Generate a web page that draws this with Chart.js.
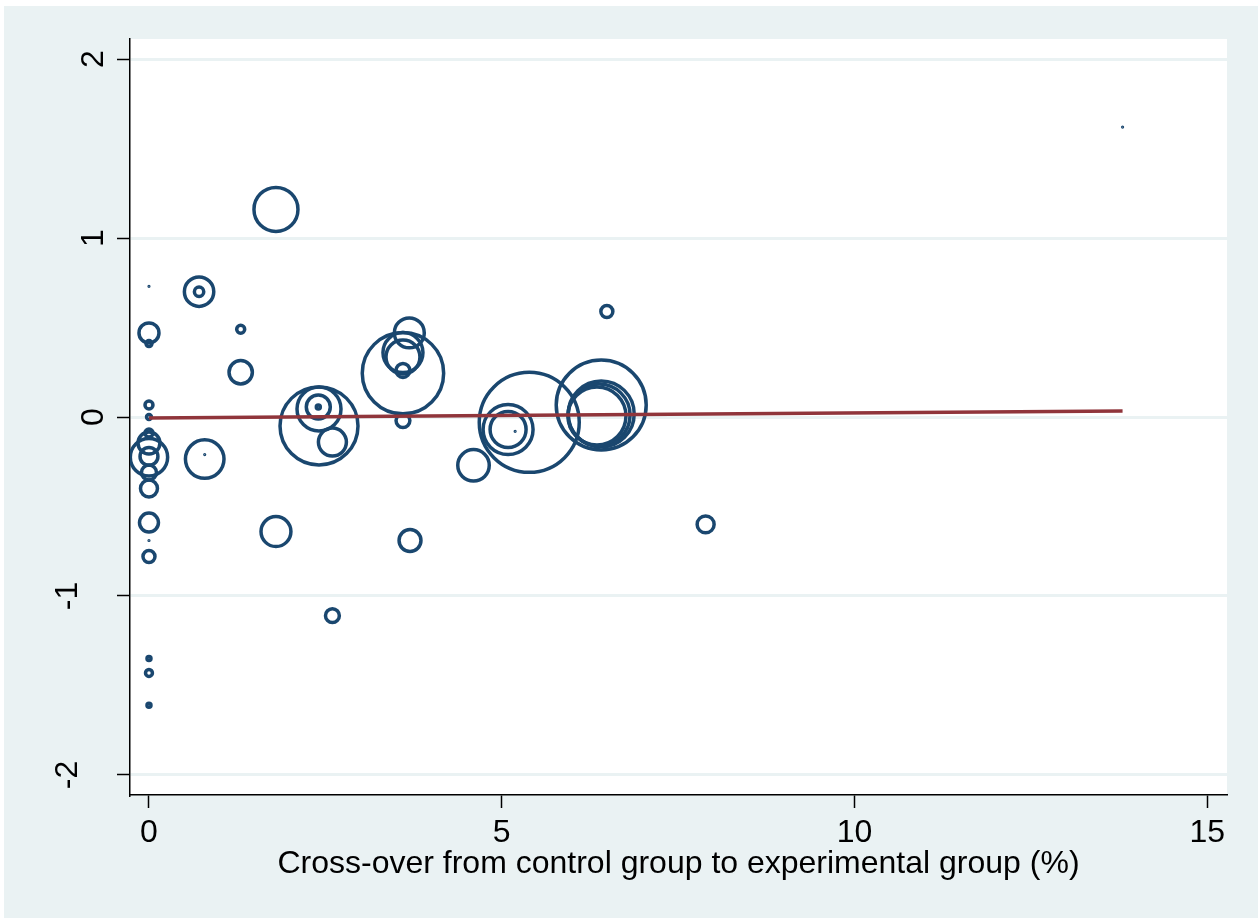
<!DOCTYPE html>
<html>
<head>
<meta charset="utf-8">
<script src="https://cdn.jsdelivr.net/npm/chart.js@4.4.0/dist/chart.umd.min.js"></script>
<style>
  body { margin: 0; background: #fff; }
  #wrap { position: absolute; left: 4px; top: 6px; width: 1254px; height: 912px; }
</style>
</head>
<body>
<div id="wrap"><canvas id="chart" width="1254" height="912"></canvas></div>
<script>
// values: one entry per study
const crossover = [0, 0.71, 0.71, 0, 0, 1.30, 1.30, 0, 0, 0,
  0, 0, 0, 0, 0, 0, 0, 0, 0, 0,
  0, 0.79, 0.79, 1.80, 1.80, 3.69, 3.60, 3.60, 3.60, 3.60,
  3.60, 2.41, 2.41, 2.40, 2.40, 2.60, 5.39, 5.09, 5.09, 5.19,
  4.60, 6.41, 6.41, 6.38, 6.35, 6.49, 7.89, 3.70, 2.60, 13.8];
const effect = [0.73, 0.70, 0.70, 0.47, 0.41, 0.49, 0.25, 0.067, 0.0, -0.09,
  -0.145, -0.225, -0.22, -0.31, -0.40, -0.59, -0.69, -0.78, -1.35, -1.43,
  -1.61, -0.235, -0.21, -0.64, 1.16, 0.47, 0.245, 0.36, 0.335, 0.26,
  -0.02, -0.05, 0.045, 0.056, 0.056, -0.14, -0.03, -0.07, -0.07, -0.08,
  -0.27, 0.067, 0.017, 0.011, 0.006, 0.59, -0.60, -0.69, -1.11, 1.62];
const weight = [0.25, 54, 5.5, 25, 2.25, 4, 34, 4, 1.5, 4,
  30, 87, 20, 14, 18, 22.5, 0.25, 9, 1, 3,
  1, 93, 0.25, 56, 121, 56, 414, 100, 72, 12,
  12, 380, 121, 36, 1, 49, 625, 156, 81, 0.25,
  62, 506, 272, 240, 210, 9, 18, 30, 12, 0.25];

// fitted line
const fitX = [0, 13.8];
const fitY = [-0.006, 0.034];

const xTicks = [0, 5, 10, 15];
const yTicks = [-2, -1, 0, 1, 2];
const xTitle = "Cross-over from control group to experimental group (%)";

const navy = "#1a476f";
const maroon = "#90353b";
const bgBlue = "#eaf2f3";
const fontFamily = '"Liberation Sans", Arial, sans-serif';

const bubbles = crossover.map((x, i) => ({ x: x, y: effect[i], r: 2 * Math.sqrt(weight[i]) }));
const fitLine = fitX.map((x, i) => ({ x: x, y: fitY[i] }));

// background: light region, white plot area
const backdrop = {
  id: "backdrop",
  beforeDraw(chart) {
    const { ctx, chartArea } = chart;
    ctx.save();
    ctx.fillStyle = bgBlue;
    ctx.fillRect(0, 0, chart.width, chart.height);
    ctx.fillStyle = "#fff";
    ctx.fillRect(chartArea.left, chartArea.top, chartArea.right - chartArea.left, chartArea.bottom - chartArea.top);
    ctx.restore();
  }
};

// rotated y labels, stata style
const yLabels = {
  id: "yLabels",
  afterDraw(chart) {
    const ctx = chart.ctx;
    const scale = chart.scales.y;
    ctx.save();
    ctx.fillStyle = "#000";
    ctx.font = "32px " + fontFamily;
    ctx.textAlign = "center";
    ctx.textBaseline = "alphabetic";
    yTicks.forEach(v => {
      const py = scale.getPixelForValue(v);
      const bx = v < 0 ? 73 : 99;
      ctx.save();
      ctx.translate(bx, py);
      ctx.rotate(-Math.PI / 2);
      ctx.fillText(String(v), 0, 0);
      ctx.restore();
    });
    ctx.restore();
  }
};

new Chart(document.getElementById("chart"), {
  data: {
    datasets: [
      {
        type: "line",
        data: fitLine,
        borderColor: maroon,
        borderWidth: 3.5,
        pointRadius: 0,
        fill: false,
        order: 0
      },
      {
        type: "bubble",
        data: bubbles,
        borderColor: navy,
        backgroundColor: "rgba(0,0,0,0)",
        borderWidth: ctx => (weight[ctx.dataIndex] < 0.5 ? 1.2 : 3.5),
        order: 1
      }
    ]
  },
  options: {
    responsive: false,
    devicePixelRatio: 1,
    animation: false,
    events: [],
    layout: { autoPadding: false, padding: { top: 33, right: 31, left: 0, bottom: 0 } },
    plugins: { legend: { display: false }, tooltip: { enabled: false } },
    scales: {
      x: {
        type: "linear",
        min: -0.269,
        max: 15.28,
        afterBuildTicks: s => { s.ticks = xTicks.map(v => ({ value: v })); },
        afterFit: s => { s.height = 123; s.paddingLeft = 0; s.paddingRight = 0; },
        ticks: { font: { size: 32, family: fontFamily }, color: "#000", padding: 6, maxRotation: 0, autoSkip: false },
        grid: { drawOnChartArea: false, tickColor: "#000", tickLength: 13, tickWidth: 1.5 },
        border: { color: "#000", width: 1.5 },
        title: {
          display: true,
          text: xTitle,
          color: "#000",
          font: { size: 32, family: fontFamily },
          padding: { top: 0, bottom: 35 }
        }
      },
      y: {
        type: "linear",
        min: -2.112,
        max: 2.112,
        afterBuildTicks: s => { s.ticks = yTicks.map(v => ({ value: v })); },
        afterFit: s => { s.width = 126; s.paddingTop = 0; s.paddingBottom = 0; },
        ticks: { display: false },
        grid: { color: bgBlue, lineWidth: 3, tickColor: "#000", tickLength: 13, tickWidth: 1.5 },
        border: { color: "#000", width: 1.5 }
      }
    }
  },
  plugins: [backdrop, yLabels]
});
</script>
</body>
</html>
